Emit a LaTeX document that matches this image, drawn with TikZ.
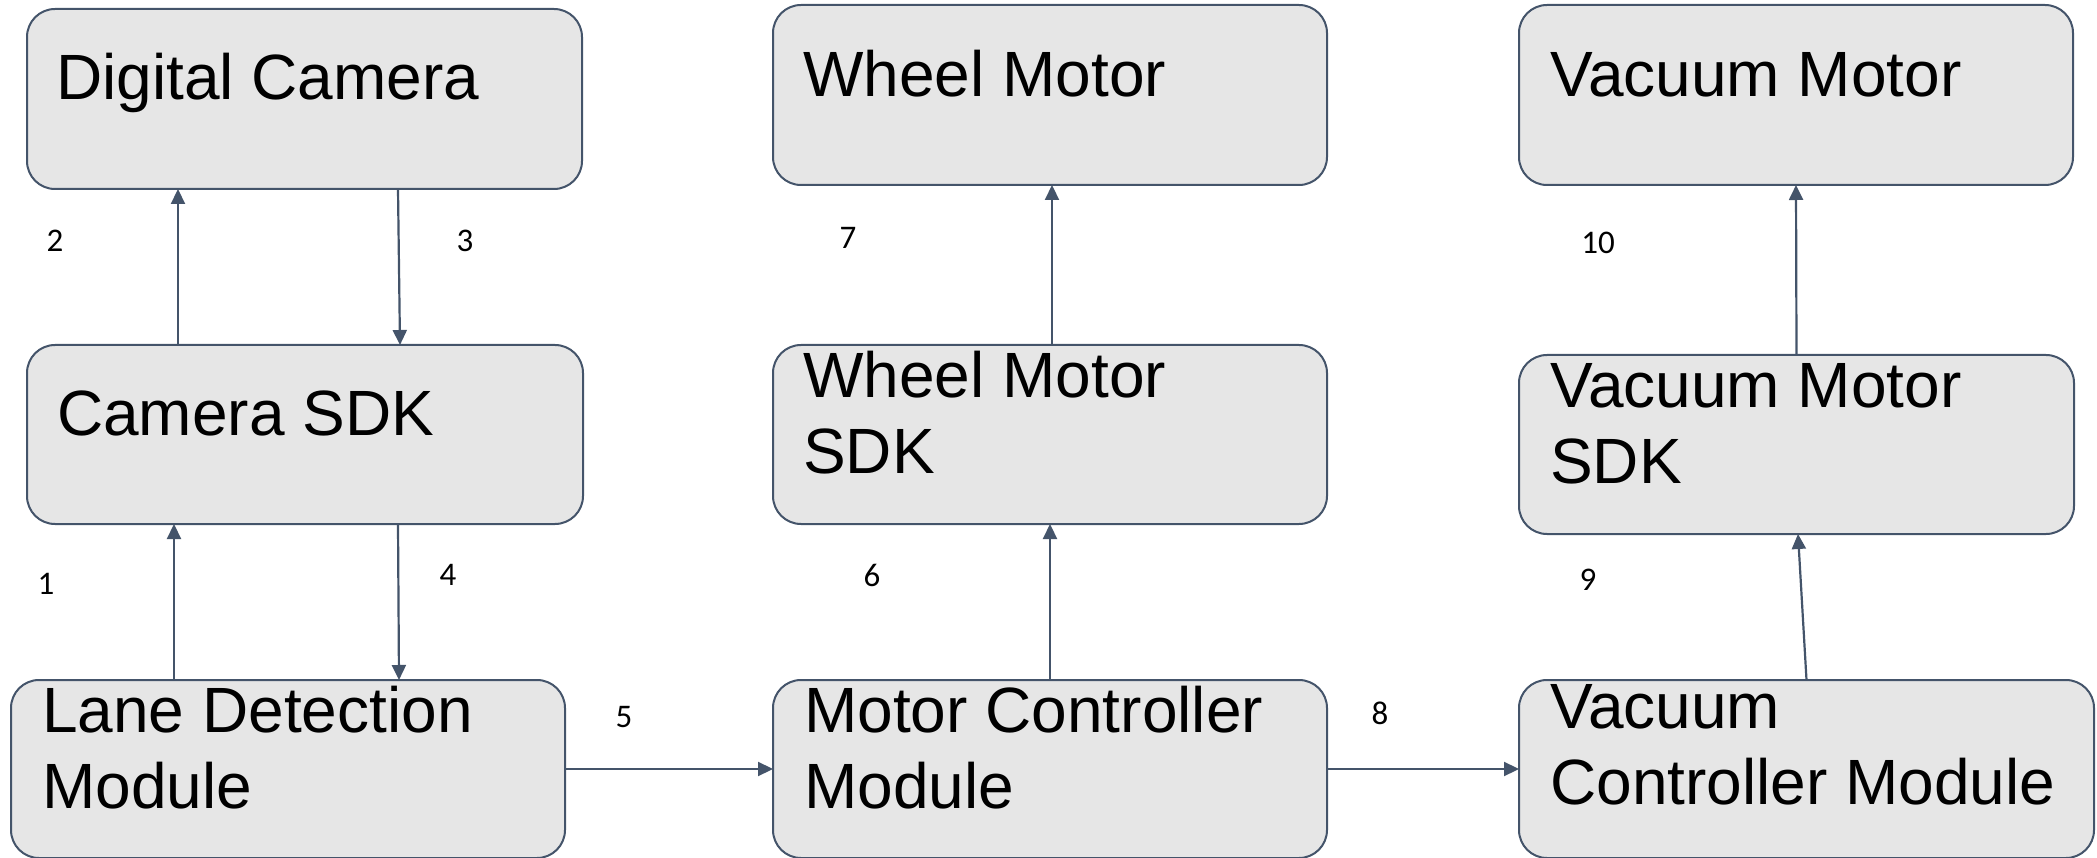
\documentclass[tikz,border=0pt]{standalone}
\usepackage{fontspec}
\setmainfont{Liberation Sans}
\newfontfamily\labelfont{Carlito}
\usetikzlibrary{arrows.meta}
\definecolor{lineC}{HTML}{44546A}
\definecolor{boxC}{RGB}{230,230,230}
\newcommand\twoline[2]{\vtop{\baselineskip=76pt\hbox{#1}\hbox{#2}}}
\begin{document}
\begin{tikzpicture}[x=1pt,y=-1pt,
 box/.style={draw=lineC, fill=boxC, line width=2pt, rounded corners=28pt, inner sep=0pt, outer sep=0pt, minimum width=554pt, minimum height=180pt},
 txt/.style={anchor=base west, inner sep=0pt, font=\fontsize{64}{76}\selectfont},
 num/.style={inner sep=0pt, font=\labelfont\fontsize{33}{40}\selectfont},
 arr/.style={draw=lineC, line width=2.2pt, -{Triangle[width=14pt,length=15pt]}}]
\useasboundingbox (0,0) rectangle (2097,858);
% boxes
\node[box, minimum width=555pt] (dc) at (304.5,99) {};
\node[box, minimum width=556pt, minimum height=179pt] (cs) at (305,434.5) {};
\node[box, minimum height=178pt] (ld) at (288,769) {};
\node[box] (wm) at (1050,95) {};
\node[box, minimum height=179pt] (ws) at (1050,434.5) {};
\node[box, minimum height=178pt] (mc) at (1050,769) {};
\node[box] (vm) at (1796,95) {};
\node[box, minimum width=555pt, minimum height=179pt] (vs) at (1796.5,444.5) {};
\node[box, minimum width=575pt, minimum height=178pt] (vc) at (1806.5,769) {};
% texts
\node[txt] (tdc) at (56,100) {Digital Camera};
\node[txt] (tcs) at (57,436) {Camera SDK};
\node[txt] (tld) at (42,732) {\twoline{Lane Detection}{Module}};
\node[txt] (twm) at (803,97) {Wheel Motor};
\node[txt] (tws) at (803,398) {\twoline{Wheel Motor}{SDK}};
\node[txt] (tmc) at (804,732) {\twoline{Motor Controller}{Module}};
\node[txt] (tvm) at (1550,97) {Vacuum Motor};
\node[txt] (tvs) at (1550,408) {\twoline{Vacuum Motor}{SDK}};
\node[txt] (tvc) at (1550,728) {\twoline{Vacuum}{Controller Module}};
% arrows
\draw[arr] ([xshift=-114pt]ld.north) -- ([xshift=-131pt]cs.south);
\draw[arr] ([xshift=-127pt]cs.north) -- ([xshift=-126.5pt]dc.south);
\draw[arr] ([xshift=93.5pt]dc.south) -- ([xshift=95pt]cs.north);
\draw[arr] ([xshift=93pt]cs.south) -- ([xshift=111pt]ld.north);
\draw[arr] (ld.east) -- (mc.west);
\draw[arr] (mc.north) -- (ws.south);
\draw[arr] ([xshift=2pt]ws.north) -- ([xshift=2pt]wm.south);
\draw[arr] (mc.east) -- (vc.west);
\draw[arr] (vc.north) -- ([xshift=1.5pt]vs.south);
\draw[arr] (vs.north) -- (vm.south);
% labels
\node[num] (n1) at (46,584) {1};
\node[num] (n2) at (55,241) {2};
\node[num] (n3) at (465,241) {3};
\node[num] (n4) at (448,575) {4};
\node[num] (n5) at (624,717) {5};
\node[num] (n6) at (872,575) {6};
\node[num] (n7) at (848,238) {7};
\node[num] (n8) at (1380,713) {8};
\node[num] (n9) at (1588,580) {9};
\node[num] (n10) at (1598,243) {10};
\end{tikzpicture}
\end{document}
